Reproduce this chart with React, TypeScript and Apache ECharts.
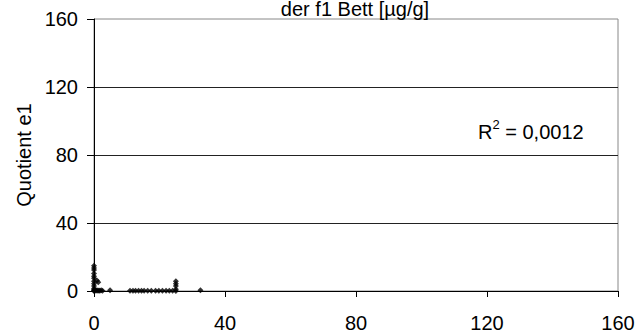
import React, { useEffect, useRef } from "react";
import * as echarts from "echarts";

// Scatter of the f1 bed content against quotient e1
const xValues = [
  0, 0, 0, 0, 0, 0, 0, 0, 0, 0, 0, 0, 0,
  0.3, 0.6, 0.9, 1.2, 1.5, 1.8, 2.2, 2.6,
  0.9, 1.3,
  4.9,
  11.0, 11.9, 12.7, 13.6, 14.5, 15.3, 16.4, 17.5, 18.8, 19.8, 20.9, 22.0, 23.0, 24.0,
  25, 25, 25, 25, 25,
  32.5,
];
const yValues = [
  14.9, 13.6, 12.4, 10.3, 8.7, 7.5, 5.8, 4.2, 2.9, 1.5, 0.8, 0.3, 0,
  0.5, 0.2, 0.4, 0.1, 0.3, 0.2, 0.4, 0.1,
  6.2, 5.2,
  0.4,
  0.2, 0.1, 0.2, 0.1, 0.2, 0.1, 0.2, 0.1, 0.2, 0.1, 0.2, 0.1, 0.2, 0.1,
  0, 1.0, 2.9, 4.2, 5.8,
  0.5,
];
const axisTicks = [0, 40, 80, 120, 160];
const titleText = "der f1 Bett [µg/g]";
const yAxisTitle = "Quotient e1";
const rSquared = "0,0012";

const FONT = "'Liberation Sans', Arial, sans-serif";

export default function App() {
  const ref = useRef<HTMLDivElement>(null);

  useEffect(() => {
    if (!ref.current) return;
    const chart = echarts.init(ref.current, null, { renderer: "svg" });
    const points = xValues.map((x, i) => [x, yValues[i]]);
    const axisMin = axisTicks[0];
    const axisMax = axisTicks[axisTicks.length - 1];
    const step = axisTicks[1] - axisTicks[0];

    chart.setOption({
      animation: false,
      backgroundColor: "#fff",
      textStyle: { fontFamily: FONT, color: "#000" },
      grid: {
        left: 94,
        right: 21,
        top: 19,
        bottom: 38,
        show: true,
        borderColor: "#888",
        borderWidth: 1,
        backgroundColor: "transparent",
      },
      xAxis: {
        type: "value",
        min: axisMin,
        max: axisMax,
        interval: step,
        axisLine: { show: true, onZero: false, lineStyle: { color: "#000", width: 1 } },
        axisTick: { show: true, inside: false, length: 6, lineStyle: { color: "#000" } },
        axisLabel: { color: "#000", fontSize: 20, fontFamily: FONT, margin: 22 },
        splitLine: { show: false },
      },
      yAxis: {
        type: "value",
        min: axisMin,
        max: axisMax,
        interval: step,
        name: yAxisTitle,
        nameLocation: "middle",
        nameGap: 60,
        nameTextStyle: { color: "#000", fontSize: 20, fontFamily: FONT },
        axisLine: { show: true, onZero: false, lineStyle: { color: "#000", width: 1 } },
        axisTick: { show: true, inside: false, length: 7, lineStyle: { color: "#000" } },
        axisLabel: { color: "#000", fontSize: 20, fontFamily: FONT, margin: 16 },
        splitLine: {
          show: true,
          showMaxLine: false,
          lineStyle: { color: "#222", width: 1 },
        },
      },
      graphic: [
        {
          type: "text",
          style: {
            text: titleText,
            x: 355,
            y: 19,
            align: "center",
            verticalAlign: "bottom",
            fontSize: 20,
            fontFamily: FONT,
            fill: "#000",
          },
        },
        {
          type: "text",
          style: {
            text: "{a|R}{s|2}{a| = " + rSquared + "}",
            x: 478,
            y: 130,
            align: "left",
            verticalAlign: "middle",
            rich: {
              a: { fontSize: 20, fontFamily: FONT, fill: "#000", color: "#000", verticalAlign: "bottom", lineHeight: 24 },
              s: { fontSize: 13, fontFamily: FONT, fill: "#000", color: "#000", verticalAlign: "top", lineHeight: 24 },
            },
          },
        },
      ],
      series: [
        {
          type: "scatter",
          data: points,
          symbol: "diamond",
          symbolSize: 6,
          itemStyle: { color: "#000" },
        },
      ],
    });

    return () => chart.dispose();
  }, []);

  return (
    <div
      ref={ref}
      style={{ position: "fixed", left: 0, top: 0, width: 639, height: 333 }}
    />
  );
}
